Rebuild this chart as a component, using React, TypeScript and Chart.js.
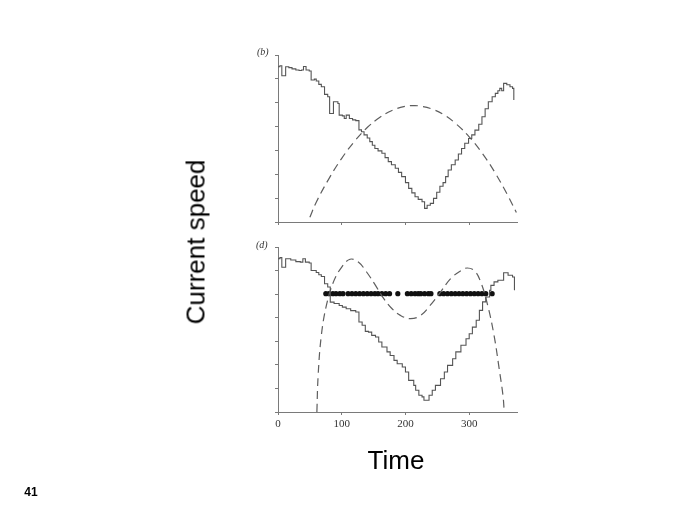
import React, { useEffect, useRef } from "react";
import { Chart, registerables } from "chart.js";

Chart.register(...registerables);

// Panel (b): stepped current-speed trace
const topStepX = [0, 3, 6, 12, 17, 22, 28, 33, 37, 40, 44, 49, 52, 57, 60, 64, 68, 73, 78, 81, 87, 94, 96, 101, 104, 107, 112, 117, 122, 127, 131, 135, 140, 144, 148, 152, 157, 163, 168, 173, 178, 184, 189, 194, 200, 205, 210, 215, 220, 226, 230, 234, 239, 244, 249, 254, 259, 263, 267, 272, 278, 283, 288, 293, 299, 304, 309, 315, 320, 325, 330, 336, 341, 345, 348, 351, 354, 359, 364, 368, 370];
const topStepY = [6.51, 6.55, 6.13, 6.51, 6.47, 6.42, 6.37, 6.35, 6.37, 6.52, 6.37, 6.33, 5.95, 5.99, 5.91, 5.77, 5.67, 5.35, 5.25, 4.55, 5.04, 4.97, 4.48, 4.45, 4.34, 4.48, 4.34, 4.28, 4.25, 3.86, 3.78, 3.65, 3.52, 3.37, 3.22, 3.08, 2.98, 2.88, 2.7, 2.53, 2.4, 2.25, 2.08, 1.9, 1.65, 1.41, 1.22, 1.06, 0.95, 0.85, 0.57, 0.7, 0.78, 0.99, 1.25, 1.5, 1.65, 1.9, 2.18, 2.4, 2.6, 2.85, 3.08, 3.3, 3.5, 3.65, 3.85, 4.1, 4.41, 4.75, 5.04, 5.25, 5.39, 5.5, 5.6, 5.5, 5.81, 5.75, 5.67, 5.6, 5.11];

// Panel (b): dashed curve
const topDashX = [50, 60, 80, 100, 120, 140, 160, 180, 200, 213, 220, 240, 260, 280, 300, 320, 340, 360, 374];
const topDashY = [0.2, 0.83, 1.82, 2.67, 3.38, 3.96, 4.39, 4.69, 4.85, 4.88, 4.87, 4.75, 4.5, 4.1, 3.57, 2.9, 2.09, 1.14, 0.4];

// Panel (d): stepped current-speed trace
const botStepX = [0, 3, 6, 12, 20, 28, 35, 39, 43, 49, 52, 57, 60, 64, 68, 73, 78, 82, 88, 96, 101, 107, 114, 122, 127, 132, 137, 142, 147, 153, 158, 163, 171, 176, 182, 187, 195, 200, 205, 213, 216, 221, 226, 229, 232, 237, 242, 247, 255, 261, 266, 274, 279, 287, 295, 300, 305, 311, 316, 321, 326, 332, 334, 339, 345, 350, 354, 361, 368, 371];
const botStepY = [6.5, 6.55, 6.14, 6.5, 6.45, 6.38, 6.36, 6.5, 6.36, 6.32, 6.0, 6.0, 5.92, 5.82, 5.75, 5.44, 5.3, 4.66, 4.6, 4.52, 4.45, 4.38, 4.3, 4.24, 3.82, 3.68, 3.42, 3.39, 3.25, 3.18, 2.97, 2.76, 2.55, 2.4, 2.19, 2.05, 1.91, 1.7, 1.34, 1.13, 0.92, 0.71, 0.64, 0.5, 0.5, 0.71, 0.92, 1.13, 1.41, 1.7, 1.98, 2.26, 2.55, 2.83, 3.11, 3.32, 3.6, 3.89, 4.31, 4.67, 4.88, 5.16, 5.37, 5.52, 5.59, 5.59, 5.91, 5.8, 5.73, 5.16];

// Panel (d): dashed curve
const botDashX = [61, 63, 68, 76, 87, 100, 113, 126, 139, 153, 166, 179, 192, 208, 224, 239, 255, 271, 287, 297, 308, 318, 329, 339, 347, 353, 355];
const botDashY = [0, 1.56, 3.25, 4.53, 5.52, 6.15, 6.48, 6.36, 5.94, 5.37, 4.81, 4.38, 4.1, 3.96, 4.1, 4.53, 5.09, 5.66, 6.0, 6.11, 6.0, 5.52, 4.53, 3.25, 1.84, 0.7, 0];

// Panel (d): dotted row
const dotX = [75, 80, 86, 91, 97, 102, 110, 116, 122, 128, 134, 140, 146, 152, 157, 163, 169, 175, 188, 203, 209, 215, 220, 224, 230, 236, 240, 254, 260, 266, 272, 278, 284, 290, 296, 302, 308, 314, 320, 326, 336];
const dotLevel = 5.02;

const xTicks = [0, 100, 200, 300];
const xMax = 375;
const yMax = 7;

const AXIS = "#7a7a7a";

function pts(xs: number[], ys: number[]) {
  return xs.map((x, i) => ({ x, y: ys[i] }));
}

function makeOptions(showXLabels: boolean, padding: any, xAxisHeight: number): any {
  return {
    responsive: false,
    animation: false,
    events: [],
    layout: { padding },
    plugins: { legend: { display: false }, tooltip: { enabled: false } },
    elements: { point: { radius: 0 } },
    scales: {
      x: {
        type: "linear",
        min: 0,
        max: xMax,
        afterBuildTicks: (s: any) => {
          s.ticks = xTicks.map((v) => ({ value: v }));
        },
        afterFit: (s: any) => {
          s.height = xAxisHeight;
        },
        grid: {
          display: true,
          drawOnChartArea: false,
          drawTicks: true,
          tickLength: 3,
          color: AXIS,
        },
        border: { display: true, color: AXIS, width: 1 },
        ticks: {
          display: showXLabels,
          padding: 3,
          color: "#333",
          font: { family: "'Liberation Serif', 'Times New Roman', serif", size: 11 },
          maxRotation: 0,
        },
      },
      y: {
        type: "linear",
        min: 0,
        max: yMax,
        afterFit: (s: any) => {
          s.width = 4;
        },
        ticks: { display: false, stepSize: 1 },
        grid: {
          display: true,
          drawOnChartArea: false,
          drawTicks: true,
          tickLength: 3,
          color: AXIS,
        },
        border: { display: true, color: AXIS, width: 1 },
      },
    },
  };
}

export default function App() {
  const topRef = useRef<HTMLCanvasElement | null>(null);
  const botRef = useRef<HTMLCanvasElement | null>(null);

  useEffect(() => {
    const top = new Chart(topRef.current as HTMLCanvasElement, {
      type: "line",
      data: {
        datasets: [
          {
            data: pts(topStepX, topStepY),
            stepped: true,
            borderColor: "#555",
            borderWidth: 1.1,
            pointRadius: 0,
            fill: false,
          },
          {
            data: pts(topDashX, topDashY),
            borderColor: "#5e5e5e",
            borderWidth: 1.2,
            borderDash: [8, 5],
            tension: 0.4,
            pointRadius: 0,
            fill: false,
          },
        ],
      } as any,
      options: makeOptions(false, { left: 274, right: 171, top: 55, bottom: 290 }, 4),
    });

    const bot = new Chart(botRef.current as HTMLCanvasElement, {
      type: "line",
      data: {
        datasets: [
          {
            data: pts(botStepX, botStepY),
            stepped: true,
            borderColor: "#555",
            borderWidth: 1.1,
            pointRadius: 0,
            fill: false,
          },
          {
            data: pts(botDashX, botDashY),
            borderColor: "#5e5e5e",
            borderWidth: 1.2,
            borderDash: [8, 5],
            tension: 0.4,
            pointRadius: 0,
            fill: false,
          },
          {
            data: dotX.map((x) => ({ x, y: dotLevel })),
            showLine: false,
            pointRadius: 2.6,
            pointBackgroundColor: "#111",
            pointBorderColor: "#111",
            pointBorderWidth: 0,
          },
        ],
      } as any,
      options: makeOptions(true, { left: 274, right: 171, top: 247, bottom: 84 }, 20),
    });

    return () => {
      top.destroy();
      bot.destroy();
    };
  }, []);

  const canvasStyle: React.CSSProperties = {
    position: "fixed",
    left: 0,
    top: 0,
    width: 688,
    height: 516,
  };

  return (
    <div style={{ position: "fixed", left: 0, top: 0, width: 688, height: 516, background: "#fff" }}>
      <canvas ref={topRef} width={688} height={516} style={canvasStyle} />
      <canvas ref={botRef} width={688} height={516} style={canvasStyle} />
      <div
        style={{
          position: "fixed",
          left: 257,
          top: 46,
          fontFamily: "'Liberation Serif', serif",
          fontStyle: "italic",
          fontSize: 10,
          color: "#333",
        }}
      >
        (b)
      </div>
      <div
        style={{
          position: "fixed",
          left: 256,
          top: 239,
          fontFamily: "'Liberation Serif', serif",
          fontStyle: "italic",
          fontSize: 10,
          color: "#333",
        }}
      >
        (d)
      </div>
      <div
        style={{
          position: "fixed",
          left: 196,
          top: 242,
          transform: "translate(-50%, -50%) rotate(-90deg)",
          fontFamily: "'Liberation Sans', Arial, sans-serif",
          fontSize: 26,
          color: "#000",
          whiteSpace: "nowrap",
        }}
      >
        Current speed
      </div>
      <div
        style={{
          position: "fixed",
          left: 396,
          top: 460,
          transform: "translate(-50%, -50%)",
          fontFamily: "'Liberation Sans', Arial, sans-serif",
          fontSize: 26,
          color: "#000",
          whiteSpace: "nowrap",
        }}
      >
        Time
      </div>
      <div
        style={{
          position: "fixed",
          left: 31,
          top: 492,
          transform: "translate(-50%, -50%)",
          fontFamily: "'Liberation Sans', Arial, sans-serif",
          fontWeight: "bold",
          fontSize: 12,
          color: "#000",
          whiteSpace: "nowrap",
        }}
      >
        41
      </div>
    </div>
  );
}
